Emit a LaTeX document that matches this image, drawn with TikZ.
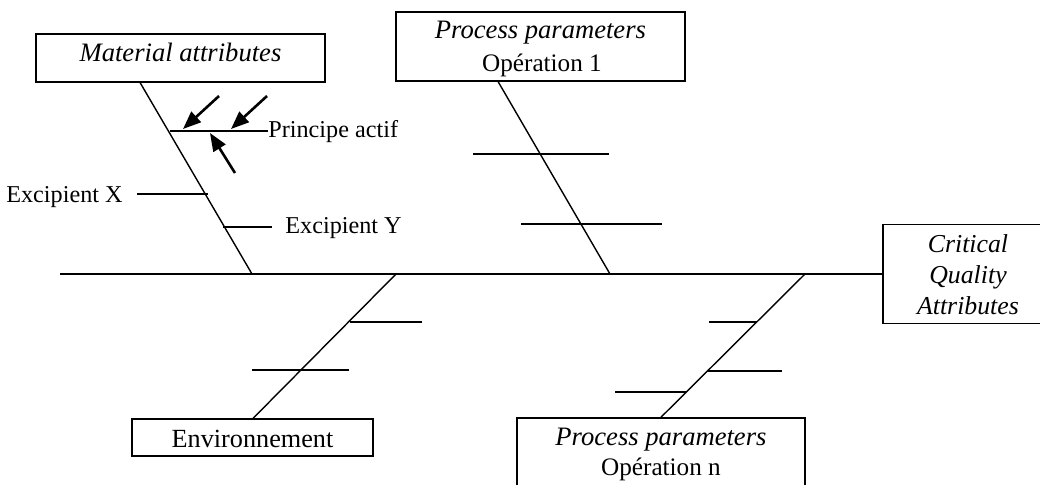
\documentclass[tikz,border=0pt]{standalone}
\usepackage{fontspec}
\setmainfont{Liberation Serif}
\usetikzlibrary{arrows.meta,calc}
\begin{document}
\begin{tikzpicture}[x=0.5pt,y=-0.5pt,
  txt/.style={font=\fontsize{12.1}{15}\selectfont},
  itx/.style={font=\fontsize{13.3}{16}\selectfont\itshape},
  box/.style={draw,line width=0.8pt,inner sep=0pt},
  lbl/.style={inner sep=0pt,anchor=base},
  bone/.style={line width=0.7pt},
  cause/.style={line width=1.3pt,-{Triangle[length=9pt,width=7pt]}}]
\clip (0,0) rectangle (1040,484);

% boxes at the heads and tail of the bones
\node[box,itx,anchor=base,minimum width=144.5pt,text height=13.85pt,text depth=10.15pt]
  (mat) at (180.5,61.7) {Material attributes};
\node[box,minimum width=144.5pt,minimum height=34.5pt] (op1) at (540.5,46.5) {};
\node[lbl,itx] (op1a) at (540.5,38) {Process parameters};
\node[lbl,font=\fontsize{12.6}{15}\selectfont] (op1b) at (542,71) {Opération 1};
\node[box,font=\fontsize{13.1}{15}\selectfont,anchor=base,minimum width=120.5pt,
  text height=14pt,text depth=4.5pt]
  (env) at (252.5,447) {Environnement};
\node[box,minimum width=144pt,minimum height=34.5pt] (opn) at (661,452.5) {};
\node[lbl,itx] (opna) at (661,445) {Process parameters};
\node[lbl,font=\fontsize{12.6}{15}\selectfont] (opnb) at (661,475) {Opération n};
\node[box,minimum width=85pt,minimum height=49.5pt] (cqa) at (968,274) {};
\node[lbl,font=\fontsize{12.9}{15}\selectfont\itshape] (cqa1) at (968,252) {Critical};
\node[lbl,font=\fontsize{12.9}{15}\selectfont\itshape] (cqa2) at (968,283) {Quality};
\node[lbl,font=\fontsize{12.9}{15}\selectfont\itshape] (cqa3) at (968,314) {Attributes};

% main spine
\coordinate (tail) at (60,274);
\draw[bone] (tail) -- (cqa.west);

% main bones
\coordinate (j1) at (252,274);
\coordinate (j2) at (610,274);
\coordinate (j3) at (396,274);
\coordinate (j4) at (805,274);
\draw[bone] ($(mat.south west)+(105,0)$) -- (j1);
\draw[bone] ($(op1.south west)+(103,0)$) -- (j2);
\draw[bone] ($(env.north west)+(122,0)$) -- (j3);
\draw[bone] (opn.north) -- (j4);

% material attributes: sub-causes
\node[lbl,txt,anchor=base west] (pa) at (268,137.3) {Principe actif};
\coordinate (pa0) at (170,131);
\draw[bone] (pa0) -- (pa0 -| pa.west);
\node[lbl,txt,anchor=base east] (exx) at (123,202.7) {Excipient X};
\coordinate (xa) at (137,194);
\coordinate (xb) at (208,194);
\draw[bone] (xa) -- (xb);
\node[lbl,txt,anchor=base west] (exy) at (285,233) {Excipient Y};
\coordinate (ya) at (223,227);
\coordinate (ya2) at (272,227);
\draw[bone] (ya) -- (ya2);

% arrows pointing at the active ingredient
\coordinate (s1) at (219,96);  \coordinate (t1) at (183,129);
\coordinate (s2) at (267,96);  \coordinate (t2) at (231,129);
\coordinate (s3) at (235,173); \coordinate (t3) at (210,133);
\draw[cause] (s1) -- (t1);
\draw[cause] (s2) -- (t2);
\draw[cause] (s3) -- (t3);

% operation 1: sub-causes
\coordinate (o1a) at (473,154); \coordinate (o1b) at (609,154);
\coordinate (o1c) at (521,224); \coordinate (o1d) at (662,224);
\draw[bone] (o1a) -- (o1b);
\draw[bone] (o1c) -- (o1d);

% environment: sub-causes
\coordinate (e1a) at (350,322); \coordinate (e1b) at (422,322);
\coordinate (e2a) at (252,370); \coordinate (e2b) at (349,370);
\draw[bone] (e1a) -- (e1b);
\draw[bone] (e2a) -- (e2b);

% operation n: sub-causes
\coordinate (n1a) at (709,322); \coordinate (n1b) at (757,322);
\coordinate (n2a) at (708,371); \coordinate (n2b) at (782,371);
\coordinate (n3a) at (615,392); \coordinate (n3b) at (686,392);
\draw[bone] (n1a) -- (n1b);
\draw[bone] (n2a) -- (n2b);
\draw[bone] (n3a) -- (n3b);
\end{tikzpicture}
\end{document}
